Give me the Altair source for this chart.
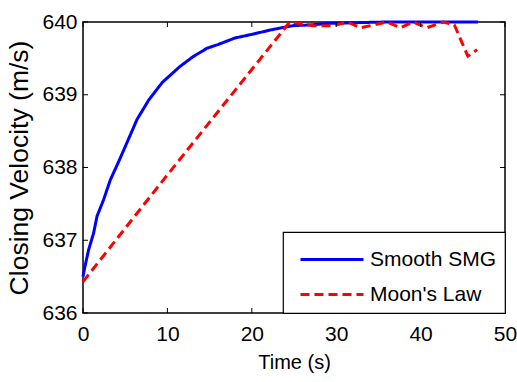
import altair as alt
import pandas as pd

smg_t = [0, 0.27, 0.67, 1.26, 1.66, 2.45, 3.24, 4.3, 5.5, 6.4, 7.8, 9.4, 11.5, 13, 14.7, 16, 18, 20, 22.2, 23.5, 24.9, 27, 29, 32, 36, 40, 44, 46.8]
smg_v = [636.5, 636.66, 636.87, 637.10, 637.33, 637.56, 637.83, 638.1, 638.42, 638.66, 638.93, 639.17, 639.39, 639.52, 639.64, 639.69, 639.78, 639.83, 639.89, 639.92, 639.95, 639.96, 639.98, 639.99, 640, 640, 640, 640]

moon_t = [0, 9.46, 24.5, 27.3, 29.7, 31.3, 32.9, 36.0, 37.6, 39.1, 40.7, 42.7, 44.0, 45.6, 46.7]
moon_v = [636.43, 637.82, 640, 639.95, 639.95, 640, 639.92, 640, 639.92, 640, 639.92, 640, 639.96, 639.53, 639.62]

series = ["Smooth SMG", "Moon's Law"]
x_ticks = [0, 10, 20, 30, 40, 50]
y_ticks = [636, 637, 638, 639, 640]

df = pd.concat([
    pd.DataFrame({"t": smg_t, "v": smg_v, "s": series[0], "o": range(len(smg_t))}),
    pd.DataFrame({"t": moon_t, "v": moon_v, "s": series[1], "o": range(len(moon_t))}),
])

W, H = 422, 291
FONT = "Liberation Sans"

xs = alt.Scale(domain=[0, 50], nice=False, zero=False)
ys = alt.Scale(domain=[636, 640], nice=False, zero=False)

lines = alt.Chart(df).mark_line(strokeWidth=3, clip=False).encode(
    x=alt.X("t:Q", scale=xs, axis=alt.Axis(values=x_ticks, format="d", title="Time (s)", tickSize=0, labelPadding=10,
                                           labelFlush=False, grid=False, domain=False, titlePadding=8)),
    y=alt.Y("v:Q", scale=ys, axis=alt.Axis(values=y_ticks, format="d", title="Closing Velocity (m/s)", tickSize=0,
                                           labelPadding=6, labelFlush=False, grid=False, domain=False,
                                           titlePadding=8, titleFontSize=26.5)),
    color=alt.Color("s:N", scale=alt.Scale(domain=series, range=["#0000ff", "#ff0000"]), title=None),
    strokeDash=alt.StrokeDash("s:N", scale=alt.Scale(domain=series, range=[[1, 0], [9, 5]]), title=None),
    order="o:Q",
)

xt = pd.DataFrame({"t": x_ticks})
yt = pd.DataFrame({"v": y_ticks})
tb = alt.Chart(xt).mark_rule(color="black", strokeWidth=1).encode(x=alt.X("t:Q", scale=xs), y=alt.value(H), y2=alt.value(H - 5))
tt = alt.Chart(xt).mark_rule(color="black", strokeWidth=1).encode(x=alt.X("t:Q", scale=xs), y=alt.value(0), y2=alt.value(5))
tl = alt.Chart(yt).mark_rule(color="black", strokeWidth=1).encode(y=alt.Y("v:Q", scale=ys), x=alt.value(0), x2=alt.value(5))
tr = alt.Chart(yt).mark_rule(color="black", strokeWidth=1).encode(y=alt.Y("v:Q", scale=ys), x=alt.value(W - 5), x2=alt.value(W))

chart = alt.layer(lines, tb, tt, tl, tr).properties(
    width=W, height=H,
    autosize=alt.AutoSizeParams(type="none"),
    padding={"left": 83, "top": 22, "right": 12, "bottom": 69},
    background="white",
).configure_view(stroke="black", strokeWidth=1.5).configure_axis(
    labelFont=FONT, labelFontSize=21, labelColor="black", titleFont=FONT, titleFontSize=20,
    titleColor="black", titleFontWeight="normal",
).configure_legend(
    orient="bottom-right", offset=0, padding=8, strokeColor="black", fillColor="white",
    labelFont=FONT, labelFontSize=21, labelColor="black", symbolType="M-0.556,0H2.944",
    symbolStrokeWidth=3, symbolSize=1296, labelOffset=40, rowPadding=5, cornerRadius=0, strokeWidth=1.2,
)

chart.save("out.html", embed_options={"renderer": "svg", "actions": False})
